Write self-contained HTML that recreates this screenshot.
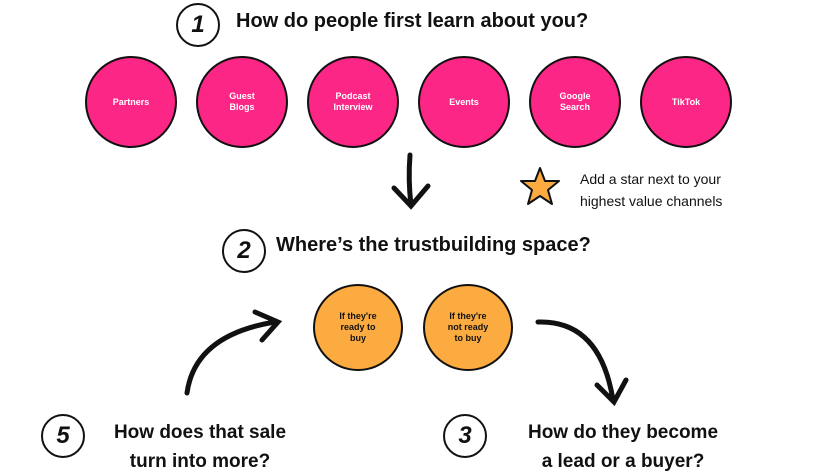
<!DOCTYPE html>
<html><head><style>
body{margin:0;width:816px;height:475px;background:#fff;position:relative;overflow:hidden;font-family:"Liberation Sans",sans-serif;}
.p{position:absolute;width:88px;height:88px;border:2px solid #111;border-radius:50%;background:#fb2685;color:#fff;font-size:9px;font-weight:bold;display:flex;align-items:center;justify-content:center;text-align:center;line-height:11px;top:56px;}
.o{position:absolute;width:86px;height:83px;border:2px solid #111;border-radius:50%;background:#fcab40;color:#111;font-size:9px;font-weight:bold;display:flex;align-items:center;justify-content:center;text-align:center;line-height:11px;top:284px;}
.t{position:absolute;font-weight:bold;color:#111;white-space:nowrap;}
.n{position:absolute;width:40px;height:40px;border:2px solid #111;border-radius:50%;font:italic 900 24px "Liberation Sans",sans-serif;display:flex;align-items:center;justify-content:center;color:#111;}
.c{position:absolute;font-size:19px;font-weight:bold;color:#111;text-align:center;line-height:29px;}
</style></head><body>
<div class="n" style="left:176px;top:3px">1</div>
<div class="t" style="left:236px;top:10px;font-size:20px">How do people first learn about you?</div>
<div class="p" style="left:85px">Partners</div>
<div class="p" style="left:196px">Guest<br>Blogs</div>
<div class="p" style="left:307px">Podcast<br>Interview</div>
<div class="p" style="left:418px">Events</div>
<div class="p" style="left:529px">Google<br>Search</div>
<div class="p" style="left:640px">TikTok</div>
<svg style="position:absolute;left:0;top:0" width="816" height="475">
<path d="M410 155 Q408 180 411 205 M394 188 L411 206 L428 186" fill="none" stroke="#111" stroke-width="5" stroke-linecap="round"/>
<polygon points="540,168 545,181 559,181 548,190 552,204 540,196 528,204 532,190 521,181 535,181" fill="#fcab40" stroke="#111" stroke-width="2" stroke-linejoin="round"/>
<path d="M187 393 Q195 335 275 322 M255 312 L278 322 L262 340" fill="none" stroke="#111" stroke-width="5" stroke-linecap="round"/>
<path d="M538 322 Q600 320 613 400 M597 385 L614 402 L626 380" fill="none" stroke="#111" stroke-width="5" stroke-linecap="round"/>
</svg>
<div class="n" style="left:222px;top:229px">2</div>
<div class="t" style="left:276px;top:234px;font-size:20px">Where’s the trustbuilding space?</div>
<div class="o" style="left:313px">If they're<br>ready to<br>buy</div>
<div class="o" style="left:423px">If they're<br>not ready<br>to buy</div>
<div style="position:absolute;left:580px;top:168px;font-size:14px;line-height:22px;color:#111">Add a star next to your<br>highest value channels</div>
<div class="n" style="left:41px;top:414px">5</div>
<div class="c" style="left:95px;top:418px;width:210px">How does that sale<br>turn into more?</div>
<div class="n" style="left:443px;top:414px">3</div>
<div class="c" style="left:512px;top:418px;width:222px">How do they become<br>a lead or a buyer?</div>
</body></html>
